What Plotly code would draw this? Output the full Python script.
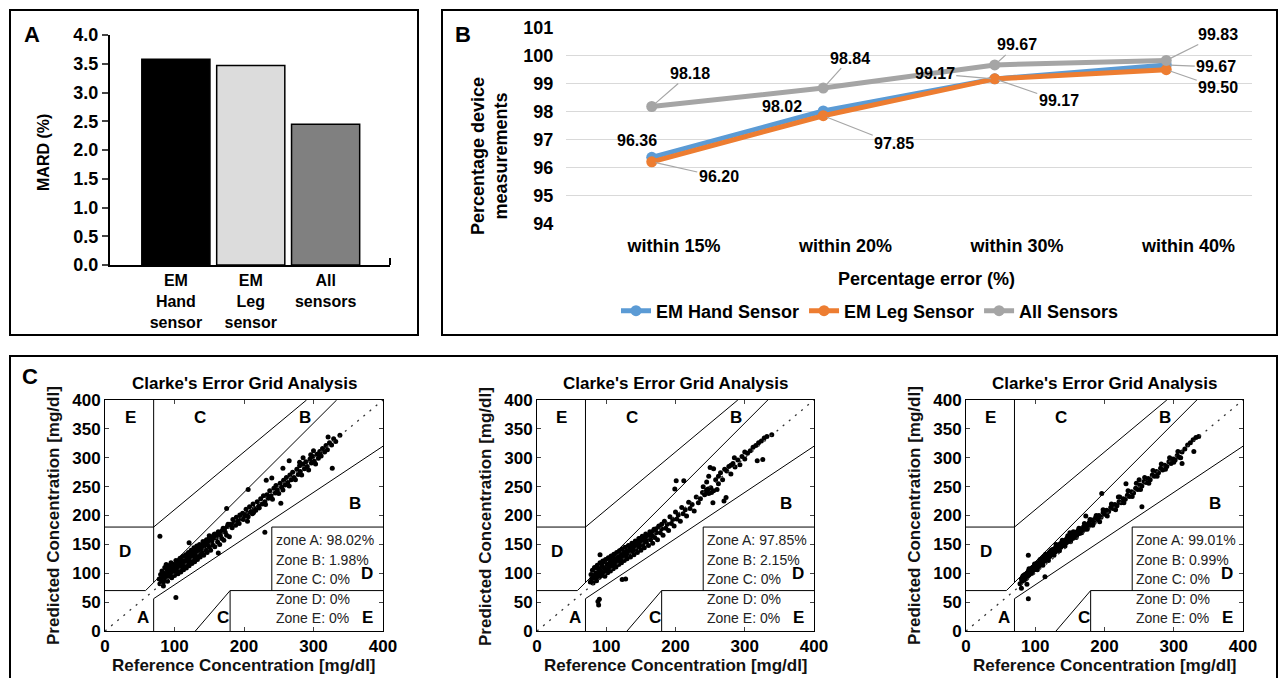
import plotly.graph_objects as go

W, H = 1281, 678
FONT = "Liberation Sans, Arial, Helvetica, sans-serif"


def fx(p):
    return p / W


def fy(p):
    return 1 - p / H


# ---------------- Panel A data ----------------
mard_labels = ["EM<br>Hand<br>sensor", "EM<br>Leg<br>sensor", "All<br>sensors"]
mard_values = [3.58, 3.47, 2.45]
mard_colors = ["#000000", "#DCDCDC", "#808080"]

# ---------------- Panel B data ----------------
err_categories = ["within 15%", "within 20%", "within 30%", "within 40%"]
hand_pct = [96.36, 98.02, 99.17, 99.67]
leg_pct = [96.20, 97.85, 99.17, 99.50]
all_pct = [98.18, 98.84, 99.67, 99.83]
series_names = ["EM Hand Sensor", "EM Leg Sensor", "All Sensors"]
series_colors = ["#5B9BD5", "#ED7D31", "#A5A5A5"]

# label offsets (pixels) for data labels, and whether a leader line is shown
hand_lab_off = [(-15, -17, False), (-41, -4, False), (-60, -5, True), (50, 2, True)]
leg_lab_off = [(67, 15, True), (71, 28, True), (64, 22, True), (52, 18, True)]
all_lab_off = [(38, -33, True), (27, -30, True), (22, -20, True), (52, -26, True)]

# ---------------- Panel C data (reference, predicted) ----------------
zone_text_1 = ["zone A: 98.02%", "Zone B: 1.98%", "Zone C: 0%", "Zone D: 0%", "Zone E: 0%"]
zone_text_2 = ["Zone A: 97.85%", "Zone B: 2.15%", "Zone C: 0%", "Zone D: 0%", "Zone E: 0%"]
zone_text_3 = ["Zone A: 99.01%", "Zone B: 0.99%", "Zone C: 0%", "Zone D: 0%", "Zone E: 0%"]

clarke_points_1 = [
    (78, 90), (79, 82), (80, 98), (81, 88), (82, 104), (83, 93), (84, 85), (85, 100), (86, 110), (87, 91),
    (88, 97), (89, 106), (90, 86), (91, 101), (92, 113), (93, 95), (94, 104), (95, 118), (96, 92), (97, 108),
    (98, 100), (99, 115), (100, 96), (101, 110), (102, 122), (103, 104), (104, 113), (105, 99), (106, 119),
    (107, 108), (108, 126), (109, 102), (110, 117), (111, 110), (112, 129), (113, 106), (114, 121),
    (115, 114), (116, 132), (117, 109), (118, 124), (119, 118), (120, 136), (121, 113), (122, 128),
    (123, 121), (124, 140), (125, 117), (126, 131), (127, 125), (128, 144), (129, 120), (130, 135),
    (131, 128), (132, 147), (133, 124), (134, 139), (135, 131), (136, 150), (137, 128), (138, 142),
    (140, 135), (141, 155), (142, 131), (143, 147), (145, 140), (146, 158), (147, 136), (148, 151),
    (150, 145), (151, 162), (152, 140), (154, 156), (155, 149), (157, 167), (158, 146), (160, 161),
    (162, 154), (163, 172), (165, 150), (166, 166), (168, 160), (170, 178), (171, 157), (173, 171),
    (175, 166), (177, 185), (179, 163),
    (181, 184), (183, 179), (184, 193), (186, 188), (188, 183), (189, 197), (191, 190), (193, 186),
    (194, 201), (196, 195), (198, 204), (199, 193), (201, 199), (203, 211), (205, 204), (206, 198),
    (208, 215), (210, 207), (212, 203), (213, 220), (215, 212), (217, 209), (219, 224), (221, 216),
    (222, 213), (224, 229), (226, 220), (228, 234), (230, 224), (231, 219), (233, 236), (235, 230),
    (237, 243), (239, 234), (241, 228), (243, 247), (245, 239), (246, 252), (248, 244), (250, 238),
    (252, 256), (254, 249), (256, 244), (257, 261), (259, 253), (261, 266), (263, 257), (265, 251),
    (266, 270), (268, 262), (270, 275), (272, 266), (274, 262), (276, 280), (278, 271), (280, 286),
    (281, 276), (283, 270), (285, 289), (287, 281), (289, 293), (291, 285), (293, 279), (295, 298),
    (297, 291), (299, 302), (301, 294), (303, 289), (305, 306), (307, 299), (309, 311), (311, 303),
    (313, 316), (316, 310), (318, 321), (320, 314), (323, 326), (326, 322), (329, 333), (332, 328),
    (85, 95), (88, 92), (92, 104), (96, 99), (100, 106), (104, 109), (108, 114), (112, 117), (116, 122),
    (120, 126), (124, 129), (128, 133), (132, 137), (136, 141), (140, 145), (144, 149), (148, 153),
    (152, 157), (156, 161), (160, 165), (164, 169), (168, 173), (172, 177), (176, 181), (180, 185),
    (90, 108), (94, 112), (98, 102), (102, 115), (106, 111), (110, 121), (114, 118), (118, 128),
    (122, 132), (126, 136), (130, 139), (134, 144), (138, 147), (142, 152), (146, 155), (150, 160),
    (154, 163), (158, 168),
    (79, 164), (102, 58), (230, 171), (327, 282), (206, 245), (232, 261), (256, 282), (253, 221),
    (214, 205), (163, 135), (175, 212), (121, 153), (84, 78), (338, 339), (321, 336), (309, 308),
    (90, 112), (93, 113), (88, 115), (150, 165), (205, 190), (240, 265), (265, 295), (285, 300),
    (300, 312), (296, 305), (280, 292),
]

clarke_points_2 = [
    (77, 85), (78, 98), (79, 90), (80, 105), (81, 83), (82, 96), (83, 110), (84, 92), (85, 101), (86, 87),
    (87, 114), (88, 99), (89, 107), (90, 93), (91, 118), (92, 103), (93, 96), (94, 112), (95, 121),
    (96, 100), (97, 109), (98, 95), (99, 124), (100, 106), (101, 115), (102, 101), (103, 127), (104, 110),
    (105, 118), (106, 104), (107, 130), (108, 114), (109, 122), (110, 108), (111, 133), (112, 117),
    (113, 125), (114, 111), (115, 136), (116, 120), (117, 128), (118, 115), (119, 139), (120, 124),
    (121, 131), (122, 118), (123, 142), (124, 127), (125, 134), (126, 122), (127, 145), (128, 130),
    (129, 137), (130, 125), (132, 148), (133, 134), (134, 141), (135, 128), (137, 152), (138, 138),
    (139, 145), (140, 132), (142, 156), (143, 142), (144, 149), (145, 136), (147, 160), (148, 146),
    (149, 153), (150, 140), (152, 164), (153, 150), (154, 157), (155, 144), (157, 168), (158, 154),
    (160, 161), (161, 148), (163, 172), (164, 158), (166, 165), (167, 152), (169, 176), (170, 162),
    (172, 170), (174, 158), (176, 182), (178, 170), (180, 177), (182, 166), (184, 190), (186, 178),
    (188, 185), (190, 174), (192, 198), (194, 186), (196, 193), (198, 182), (200, 206), (202, 194),
    (204, 201), (207, 190), (209, 214), (211, 203), (214, 210), (216, 199), (219, 223), (221, 212),
    (224, 219), (227, 208), (230, 232), (233, 222), (236, 229), (239, 240), (242, 236), (245, 244),
    (248, 238), (251, 248), (255, 243), (258, 262), (262, 268), (265, 274), (268, 262), (271, 280),
    (274, 277), (277, 285), (280, 272), (283, 290), (286, 284), (290, 296), (293, 288), (296, 302),
    (300, 298), (304, 308), (308, 312), (312, 318), (316, 321), (320, 326), (324, 329), (328, 334),
    (332, 337),
    (85, 95), (88, 92), (92, 104), (96, 99), (100, 106), (104, 109), (108, 114), (112, 117), (116, 122),
    (120, 126), (124, 129), (128, 133), (132, 137), (136, 141), (140, 145), (144, 149), (148, 153),
    (152, 157), (156, 161), (160, 165), (164, 169), (168, 173), (172, 177), (176, 181), (180, 185),
    (90, 108), (94, 112), (98, 102), (102, 115), (106, 111), (110, 121), (114, 118), (118, 128),
    (122, 132), (126, 136), (130, 139), (134, 144), (138, 147), (142, 152), (146, 155), (150, 160),
    (88, 51), (89, 45), (90, 55), (123, 89), (128, 90), (91, 132), (201, 260), (212, 260), (199, 246),
    (273, 231), (254, 222), (270, 225), (326, 297), (318, 295), (339, 340), (250, 283), (255, 281),
    (248, 268), (280, 287), (262, 255), (85, 110), (95, 120), (105, 125), (110, 130), (150, 160),
    (240, 250), (245, 258), (260, 245), (285, 300), (300, 310), (244, 241), (247, 246), (252, 240),
]

clarke_points_3 = [
    (78, 82), (80, 90), (81, 86), (82, 95), (84, 88), (85, 98), (86, 92), (88, 100), (89, 95), (90, 104),
    (91, 97), (92, 106), (94, 100), (95, 109), (96, 103), (98, 111), (99, 106), (100, 114), (101, 108),
    (102, 117), (104, 111), (105, 119), (106, 113), (108, 122), (109, 116), (110, 125), (111, 119),
    (112, 128), (114, 121), (115, 130), (116, 124), (118, 133), (119, 127), (120, 136), (121, 129),
    (122, 138), (124, 132), (125, 141), (126, 134), (128, 143), (129, 137), (130, 146), (132, 140),
    (133, 148), (134, 142), (136, 151), (137, 145), (138, 153), (140, 148), (141, 156), (142, 150),
    (144, 158), (145, 153), (146, 161), (148, 155), (149, 163), (150, 158), (152, 166), (154, 160),
    (155, 168), (157, 163), (158, 171), (160, 166), (162, 174), (164, 169), (166, 177), (168, 173),
    (170, 181), (172, 176), (174, 184), (176, 180), (178, 188), (180, 184), (182, 192), (185, 188),
    (187, 196), (190, 193), (192, 200), (195, 197), (198, 205), (200, 202), (203, 209), (206, 207),
    (209, 214), (212, 212), (215, 219), (218, 217), (221, 224), (224, 222), (227, 229), (230, 228),
    (233, 235), (236, 233), (239, 241), (242, 239), (245, 247), (248, 245), (251, 253), (254, 251),
    (257, 259), (260, 257), (263, 264), (266, 262), (269, 270), (272, 268), (275, 276), (278, 274),
    (281, 282), (284, 279), (287, 287), (290, 285), (293, 293), (296, 290), (299, 298), (302, 296),
    (305, 304), (308, 301), (312, 310), (316, 315), (320, 322), (324, 326), (328, 331), (332, 335),
    (83, 96), (87, 91), (91, 108), (95, 100), (99, 116), (103, 106), (107, 124), (111, 114), (115, 133),
    (119, 122), (123, 140), (127, 131), (131, 149), (135, 139), (139, 157), (143, 147), (147, 165),
    (151, 155), (155, 172), (159, 162), (163, 178), (167, 170), (171, 186), (175, 176), (179, 193),
    (183, 183), (188, 200), (193, 189), (198, 210), (204, 199), (210, 220), (216, 210), (222, 232),
    (228, 222), (234, 243), (240, 233), (246, 256), (252, 245), (258, 266), (264, 256), (270, 278),
    (276, 268), (282, 289), (288, 280), (294, 300), (300, 292), (306, 311), (310, 300),
    (90, 56), (90, 131), (114, 94), (173, 199), (196, 238), (231, 255), (254, 215), (312, 290),
    (329, 311), (336, 337), (80, 74), (88, 81), (130, 150), (150, 170), (220, 232), (250, 262),
]

# Clarke error grid zone boundaries (standard definition)
clarke_lines = [
    (0, 70, 175 / 3, 70), (175 / 3, 70, 400 / 1.2, 400), (70, 84, 70, 400), (0, 180, 70, 180),
    (70, 180, 290, 400), (70, 0, 70, 56), (70, 56, 400, 320), (180, 0, 180, 70), (180, 70, 400, 70),
    (240, 70, 240, 180), (240, 180, 400, 180), (130, 0, 180, 70),
]
zone_letters = [("E", 36, 370), ("C", 137, 370), ("B", 288, 370), ("B", 360, 221), ("D", 29, 137),
                ("D", 377, 99), ("E", 377, 23), ("A", 55, 23), ("C", 170, 23)]
zone_text_y = [157, 123, 90, 56, 22]

fig = go.Figure()

# ---- Panel A bars ----
fig.add_trace(go.Bar(
    x=[0, 1, 2], y=mard_values, width=0.91,
    marker=dict(color=mard_colors, line=dict(color="black", width=1.5)),
    xaxis="x", yaxis="y", showlegend=False, hoverinfo="skip"))

# ---- Panel B lines ----
for name, vals, col in zip(series_names, [hand_pct, leg_pct, all_pct], series_colors):
    fig.add_trace(go.Scatter(
        x=[0, 1, 2, 3], y=vals, mode="lines+markers", name=name,
        line=dict(color=col, width=5), marker=dict(color=col, size=11),
        xaxis="x2", yaxis="y2"))

# ---- Panel C scatter ----
for i, pts in enumerate([clarke_points_1, clarke_points_2, clarke_points_3]):
    fig.add_trace(go.Scatter(
        x=[p[0] for p in pts], y=[p[1] for p in pts], mode="markers",
        marker=dict(color="black", size=5), showlegend=False,
        xaxis=f"x{i + 3}", yaxis=f"y{i + 3}", hoverinfo="skip"))

shapes = []
annotations = []


def paper_text(text, x, y, size, angle=0, color="black", bold=True):
    annotations.append(dict(text=text, x=fx(x), y=fy(y), xref="paper", yref="paper", showarrow=False,
                            xanchor="center", yanchor="middle", textangle=angle,
                            font=dict(family=FONT, size=size, color=color,
                                      weight="bold" if bold else "normal")))


# panel frames
for (x0, y0, x1, y1) in [(10, 10, 418, 335), (442, 10, 1277, 335), (10, 356, 1277, 700)]:
    shapes.append(dict(type="rect", xref="paper", yref="paper", x0=fx(x0), x1=fx(x1),
                       y0=fy(y1), y1=fy(y0), line=dict(color="black", width=2)))
# end tick of panel A x axis
shapes.append(dict(type="line", xref="paper", yref="paper", x0=fx(390), x1=fx(390),
                   y0=fy(265), y1=fy(258), line=dict(color="black", width=2)))

paper_text("A", 32, 34, 22)
paper_text("B", 463, 34, 22)
paper_text("C", 30, 376, 22)

# axis titles panel A & B
paper_text("MARD (%)", 43, 153, 16, angle=-90)
paper_text("Percentage device<br>measurements", 489, 156, 18, angle=-90)
paper_text("Percentage error (%)", 926, 279, 18)

# data labels panel B
for vals, offs in [(hand_pct, hand_lab_off), (leg_pct, leg_lab_off), (all_pct, all_lab_off)]:
    for i, (v, (ax, ay, lead)) in enumerate(zip(vals, offs)):
        annotations.append(dict(
            x=i, y=v, xref="x2", yref="y2", text=f"{v:.2f}", showarrow=True, ax=ax, ay=ay,
            arrowhead=0, arrowwidth=1.2, standoff=4,
            arrowcolor="#A6A6A6" if lead else "rgba(0,0,0,0)",
            font=dict(family=FONT, size=16, color="black", weight="bold")))

# Clarke panels
c_x_domains = [(105, 383), (537, 814), (966, 1243)]
c_y = (400, 631)
zone_texts = [zone_text_1, zone_text_2, zone_text_3]
axis_layout = {}
for i, (xl, xr) in enumerate(c_x_domains):
    n = i + 3
    xr_name, yr_name = f"x{n}", f"y{n}"
    tickf = dict(family=FONT, size=17, color="black", weight="bold")
    axis_layout[f"xaxis{n}"] = dict(domain=[fx(xl), fx(xr)], range=[0, 400], anchor=yr_name,
                                    tickvals=[0, 100, 200, 300, 400], ticks="inside", ticklen=4,
                                    showline=True, mirror="ticks", linecolor="black", linewidth=1,
                                    showgrid=False, zeroline=False, tickfont=tickf, automargin=False)
    axis_layout[f"yaxis{n}"] = dict(domain=[fy(c_y[1]), fy(c_y[0])], range=[0, 400], anchor=xr_name,
                                    tickvals=[0, 50, 100, 150, 200, 250, 300, 350, 400], ticks="inside",
                                    ticklen=4, showline=True, mirror="ticks", linecolor="black", linewidth=1,
                                    showgrid=False, zeroline=False, tickfont=tickf, automargin=False)
    shapes.append(dict(type="line", xref=xr_name, yref=yr_name, x0=0, y0=0, x1=400, y1=400,
                       line=dict(color="#333333", width=1.3, dash="2px,6px")))
    for (x0, y0, x1, y1) in clarke_lines:
        shapes.append(dict(type="line", xref=xr_name, yref=yr_name, x0=x0, y0=y0, x1=x1, y1=y1,
                           line=dict(color="black", width=1)))
    for lab, x, y in zone_letters:
        annotations.append(dict(text=lab, x=x, y=y, xref=xr_name, yref=yr_name, showarrow=False,
                                xanchor="center", yanchor="middle",
                                font=dict(family=FONT, size=17, color="black", weight="bold")))
    for txt, y in zip(zone_texts[i], zone_text_y):
        annotations.append(dict(text=txt, x=243, y=y, xref=xr_name, yref=yr_name, showarrow=False,
                                xanchor="left", yanchor="middle",
                                font=dict(family=FONT, size=14, color="#222222")))
    cx = (xl + xr) / 2
    paper_text("Clarke's Error Grid Analysis", cx, 383, 17)
    paper_text("Reference Concentration [mg/dl]", cx, 665, 17, color="#111111")
    paper_text("Predicted Concentration [mg/dl]", xl - 52, 516, 17, angle=-90, color="#111111")

fig.update_layout(
    width=W, height=H, margin=dict(l=0, r=0, t=0, b=0, pad=0, autoexpand=False),
    paper_bgcolor="white", plot_bgcolor="white",
    font=dict(family=FONT, color="black"),
    xaxis=dict(domain=[fx(110), fx(390)], range=[-0.88, 2.86], anchor="y", tickvals=[0, 1, 2],
               ticktext=mard_labels, showline=True, linecolor="black", linewidth=2, ticks="",
               showgrid=False, zeroline=False, automargin=False,
               tickfont=dict(family=FONT, size=16, color="black", weight="bold")),
    yaxis=dict(domain=[fy(265), fy(35)], range=[0, 4], anchor="x", dtick=0.5, tickformat=".1f",
               ticks="outside", ticklen=6, tickwidth=2, showline=True, linecolor="black", linewidth=2,
               showgrid=False, zeroline=False, automargin=False,
               tickfont=dict(family=FONT, size=18, color="black", weight="bold")),
    xaxis2=dict(domain=[fx(566), fx(1252)], range=[-0.5, 3.5], anchor="y2",
                tickvals=[0.13, 1.13, 2.13, 3.13], ticktext=err_categories, showline=False,
                ticks="outside", ticklen=6, tickcolor="rgba(0,0,0,0)", showgrid=False, zeroline=False,
                automargin=False, tickfont=dict(family=FONT, size=18, color="black", weight="bold")),
    yaxis2=dict(domain=[fy(223.5), fy(27.5)], range=[93.99, 101.01], anchor="x2", dtick=1,
                showline=False, ticks="outside", ticklen=8, tickcolor="rgba(0,0,0,0)",
                showgrid=True, gridcolor="#D9D9D9", gridwidth=1, zeroline=False, automargin=False,
                tickfont=dict(family=FONT, size=18, color="black", weight="bold")),
    legend=dict(orientation="h", x=fx(870), xanchor="center", y=fy(311), yanchor="middle",
                font=dict(family=FONT, size=18, color="black", weight="bold"),
                bgcolor="rgba(0,0,0,0)", itemclick=False),
    shapes=shapes, annotations=annotations,
    **axis_layout,
)

fig.write_html("out.html", config={"displayModeBar": False},
               post_script="document.body.style.margin='0';document.body.style.overflow='hidden';")
